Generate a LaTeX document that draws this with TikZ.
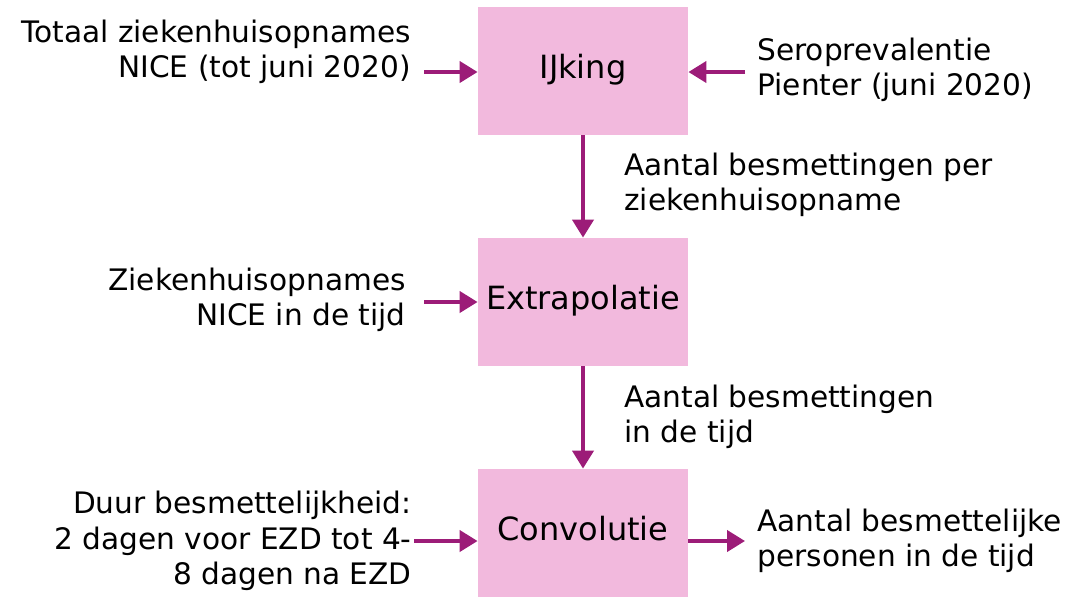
\documentclass[tikz,border=0pt]{standalone}
\usepackage{fontspec}
\setmainfont{DejaVu Sans}
\usetikzlibrary{arrows.meta, positioning}
\definecolor{roze}{HTML}{F2B9DD}
\definecolor{paars}{HTML}{9C1C78}
\tikzset{
  blok/.style={fill=roze, minimum width=105pt, minimum height=64pt, inner sep=0pt,
    text height=12pt, text depth=4.3pt, font=\fontsize{16}{19}\selectfont},
  tekst/.style={inner sep=0pt, font=\fontsize{14.8}{17.8}\selectfont},
  pijl/.style={draw=paars, line width=2pt, -{Triangle[length=9pt, width=10.5pt]}},
}
\begin{document}
\begin{tikzpicture}[x=0.5pt, y=-0.5pt]
\useasboundingbox[fill=white] (0,0) rectangle (1069,596);
% blokken
\node[blok] (ijking) at (583,71) {IJking};
\node[blok] (extra) at (583,302) {Extrapolatie};
\node[blok] (conv) at (583,533) {Convolutie};
% invoer links
\node[tekst, anchor=east, align=right] (nice) at (411,52) {Totaal ziekenhuisopnames\\NICE (tot juni 2020)};
\node[tekst, anchor=east, align=right] (opn) at (406,300) {Ziekenhuisopnames\\NICE in de tijd};
\node[tekst, anchor=east, align=right] (duur) at (412,541) {Duur besmettelijkheid:\\2 dagen voor EZD tot 4-\\8 dagen na EZD};
% rechts
\node[tekst, anchor=west, align=left] (sero) at (757,70) {Seroprevalentie\\Pienter (juni 2020)};
\node[tekst, anchor=west, align=left] (uit) at (757,541) {Aantal besmettelijke\\personen in de tijd};
% tussenresultaten
\node[tekst, anchor=west, align=left] (per) at (624,185) {Aantal besmettingen per\\ziekenhuisopname};
\node[tekst, anchor=west, align=left] (tijd) at (624,417) {Aantal besmettingen\\in de tijd};
% pijlen
\draw[pijl, shorten <=6.5pt] (nice.east |- ijking) ++(0,1) -- ([yshift=-0.5pt]ijking.west);
\draw[pijl, shorten <=6pt] (sero.west |- ijking) ++(0,1) -- ([yshift=-0.5pt]ijking.east);
\draw[pijl] (ijking) -- (extra);
\draw[pijl, shorten <=9pt] (opn.east |- extra) -- (extra);
\draw[pijl] (extra) -- (conv);
\draw[pijl, shorten <=1pt] (duur.east) -- (duur.east -| conv.west);
\draw[pijl, shorten >=6pt] (conv.east |- uit.west) -- (uit.west);
\end{tikzpicture}
\end{document}
